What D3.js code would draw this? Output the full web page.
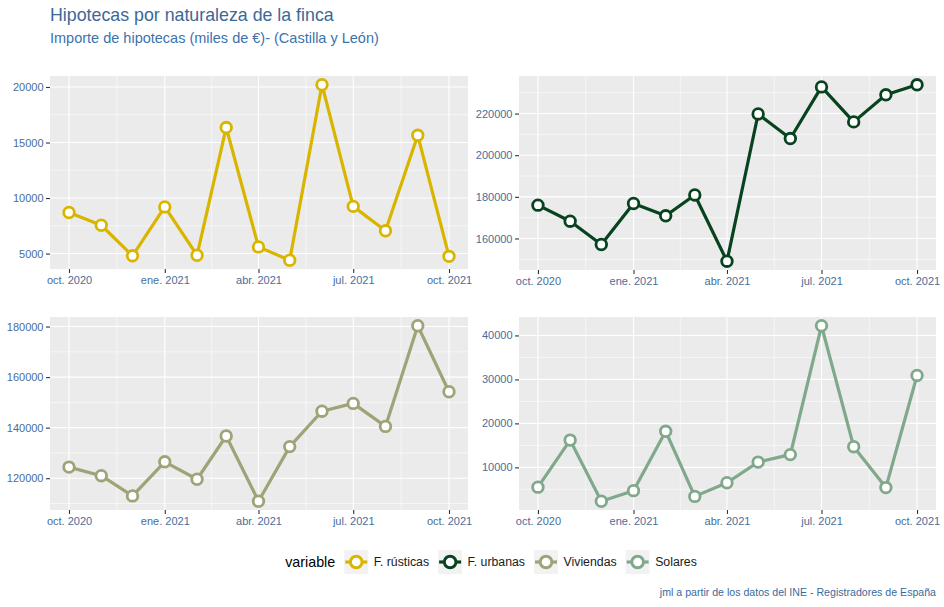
<!DOCTYPE html>
<html>
<head>
<meta charset="utf-8">
<script src="https://cdn.jsdelivr.net/npm/d3@7"></script>
<style>
  html, body { margin: 0; padding: 0; background: #ffffff; }
  svg { display: block; font-family: "Liberation Sans", Arial, sans-serif; }
</style>
</head>
<body>
<svg id="chart" width="944" height="607"></svg>
<script>
// ---------- DATA ----------
const months = ["2020-10-01","2020-11-01","2020-12-01","2021-01-01","2021-02-01","2021-03-01",
                "2021-04-01","2021-05-01","2021-06-01","2021-07-01","2021-08-01","2021-09-01","2021-10-01"];
const seriesNames = ["F. rústicas", "F. urbanas", "Viviendas", "Solares"];
const rusticas  = [8700, 7550, 4800, 9200, 4850, 16350, 5600, 4400, 20200, 9250, 7050, 15650, 4750];
const urbanas   = [176000, 168300, 157100, 176800, 170900, 180900, 149100, 219800, 208000, 232800, 216000, 229000, 233800];
const viviendas = [124400, 121000, 113000, 126500, 119600, 136700, 110900, 132500, 146500, 149600, 140500, 180300, 154200];
const solares   = [5500, 16200, 2300, 4700, 18200, 3400, 6500, 11200, 12900, 42200, 14700, 5400, 30900];
const xTickDates  = ["2020-10-01", "2021-01-01", "2021-04-01", "2021-07-01", "2021-10-01"];
const xTickLabels = ["oct. 2020", "ene. 2021", "abr. 2021", "jul. 2021", "oct. 2021"];
const yTicksRusticas  = [5000, 10000, 15000, 20000];
const yTicksUrbanas   = [160000, 180000, 200000, 220000];
const yTicksViviendas = [120000, 140000, 160000, 180000];
const yTicksSolares   = [10000, 20000, 30000, 40000];
const titleText    = "Hipotecas por naturaleza de la finca";
const subtitleText = "Importe de hipotecas (miles de €)- (Castilla y León)";
const captionText  = "jml a partir de los datos del INE - Registradores de España";
const legendTitle  = "variable";

// ---------- STYLE ----------
const colors = ["#D9B500", "#08431F", "#A0A277", "#80A88B"];
const panelBg = "#EBEBEB";
const axisTextColor = "#4A6D9A";
const parse = d3.timeParse("%Y-%m-%d");
const dates = months.map(parse);

const svg = d3.select("#chart");

// Title & subtitle
svg.append("text").attr("x", 50).attr("y", 21).attr("font-size", 17.8)
   .attr("fill", "#3C6896").text(titleText);
svg.append("text").attr("x", 50).attr("y", 42.5).attr("font-size", 14.5)
   .attr("fill", "#3A73AE").text(subtitleText);

const panels = [
  { vals: rusticas,  ticks: yTicksRusticas,  x0: 50,  x1: 468, y0: 76,  y1: 269 },
  { vals: urbanas,   ticks: yTicksUrbanas,   x0: 519, x1: 936, y0: 76,  y1: 270 },
  { vals: viviendas, ticks: yTicksViviendas, x0: 50,  x1: 468, y0: 317, y1: 510 },
  { vals: solares,   ticks: yTicksSolares,   x0: 519, x1: 936, y0: 317, y1: 510 }
];

const xMajor = xTickDates.map(parse);
const xMinor = [];
for (let i = 0; i < xMajor.length - 1; i++) {
  xMinor.push(new Date((+xMajor[i] + +xMajor[i + 1]) / 2));
}

panels.forEach((p, i) => {
  const g = svg.append("g");
  const d0 = +dates[0], d1 = +dates[dates.length - 1];
  const span = d1 - d0;
  const x = d3.scaleTime()
    .domain([new Date(d0 - 0.05 * span), new Date(d1 + 0.05 * span)])
    .range([p.x0, p.x1]);
  const [mn, mx] = d3.extent(p.vals);
  const r = mx - mn;
  const y = d3.scaleLinear()
    .domain([mn - 0.05 * r, mx + 0.05 * r])
    .range([p.y1, p.y0]);

  // background
  g.append("rect").attr("x", p.x0).attr("y", p.y0)
    .attr("width", p.x1 - p.x0).attr("height", p.y1 - p.y0).attr("fill", panelBg);

  // minor grid
  const step = p.ticks[1] - p.ticks[0];
  const yMinor = [p.ticks[0] - step / 2].concat(p.ticks.map(t => t + step / 2))
    .filter(v => v >= y.domain()[0] && v <= y.domain()[1]);
  g.selectAll(".ymin").data(yMinor).enter().append("line")
    .attr("x1", p.x0).attr("x2", p.x1)
    .attr("y1", d => y(d)).attr("y2", d => y(d))
    .attr("stroke", "#ffffff").attr("stroke-width", 0.55);
  g.selectAll(".xmin").data(xMinor).enter().append("line")
    .attr("x1", d => x(d)).attr("x2", d => x(d))
    .attr("y1", p.y0).attr("y2", p.y1)
    .attr("stroke", "#ffffff").attr("stroke-width", 0.55);
  // major grid
  g.selectAll(".ymaj").data(p.ticks).enter().append("line")
    .attr("x1", p.x0).attr("x2", p.x1)
    .attr("y1", d => y(d)).attr("y2", d => y(d))
    .attr("stroke", "#ffffff").attr("stroke-width", 1.1);
  g.selectAll(".xmaj").data(xMajor).enter().append("line")
    .attr("x1", d => x(d)).attr("x2", d => x(d))
    .attr("y1", p.y0).attr("y2", p.y1)
    .attr("stroke", "#ffffff").attr("stroke-width", 1.1);

  // axes
  const yAxis = d3.axisLeft(y).tickValues(p.ticks).tickFormat(d3.format("d"))
    .tickSize(4).tickPadding(2.5);
  const ya = g.append("g").attr("transform", `translate(${p.x0},0)`).call(yAxis);
  ya.select(".domain").remove();
  ya.selectAll(".tick line").attr("stroke", "#333333").attr("stroke-width", 1.1);
  ya.selectAll(".tick text").attr("fill", axisTextColor).attr("font-size", 11)
    .attr("font-family", "Liberation Sans, Arial, sans-serif");

  const xAxis = d3.axisBottom(x).tickValues(xMajor)
    .tickFormat((d, k) => xTickLabels[k]).tickSize(4).tickPadding(3);
  const xa = g.append("g").attr("transform", `translate(0,${p.y1})`).call(xAxis);
  xa.select(".domain").remove();
  xa.selectAll(".tick line").attr("stroke", "#333333").attr("stroke-width", 1.1);
  xa.selectAll(".tick text").attr("fill", axisTextColor).attr("font-size", 11)
    .attr("font-family", "Liberation Sans, Arial, sans-serif");

  // line
  const line = d3.line().x((d, k) => x(dates[k])).y(d => y(d));
  g.append("path").datum(p.vals).attr("d", line)
    .attr("fill", "none").attr("stroke", colors[i]).attr("stroke-width", 3.2)
    .attr("stroke-linejoin", "round");
  g.selectAll(".pt").data(p.vals).enter().append("circle")
    .attr("cx", (d, k) => x(dates[k])).attr("cy", d => y(d)).attr("r", 5.3)
    .attr("fill", "#ffffff").attr("stroke", colors[i]).attr("stroke-width", 2.8);
});

// ---------- LEGEND ----------
const leg = svg.append("g");
const legY = 562;
const lt = leg.append("text").attr("x", 0).attr("y", legY + 5).attr("font-size", 14.3)
  .attr("fill", "#000000").text(legendTitle);
let cx = lt.node().getComputedTextLength() + 9;
const keyW = 24;
seriesNames.forEach((name, i) => {
  leg.append("rect").attr("x", cx).attr("y", legY - 12).attr("width", keyW).attr("height", keyW)
    .attr("fill", "#F2F2F2");
  leg.append("line").attr("x1", cx + 1).attr("x2", cx + keyW - 1)
    .attr("y1", legY).attr("y2", legY)
    .attr("stroke", colors[i]).attr("stroke-width", 3.2);
  leg.append("circle").attr("cx", cx + keyW / 2).attr("cy", legY).attr("r", 5.8)
    .attr("fill", "#ffffff").attr("stroke", colors[i]).attr("stroke-width", 2.9);
  const t = leg.append("text").attr("x", cx + keyW + 5.5).attr("y", legY + 4.3)
    .attr("font-size", 12.3).attr("fill", "#1a1a1a").text(name);
  cx = cx + keyW + 5.5 + t.node().getComputedTextLength() + 9;
});
const legWidth = cx - 9;
leg.attr("transform", `translate(${491 - legWidth / 2},0)`);

// caption
svg.append("text").attr("x", 936).attr("y", 596).attr("text-anchor", "end")
  .attr("font-size", 10.6).attr("fill", "#3A6A9E").text(captionText);
</script>
</body>
</html>
